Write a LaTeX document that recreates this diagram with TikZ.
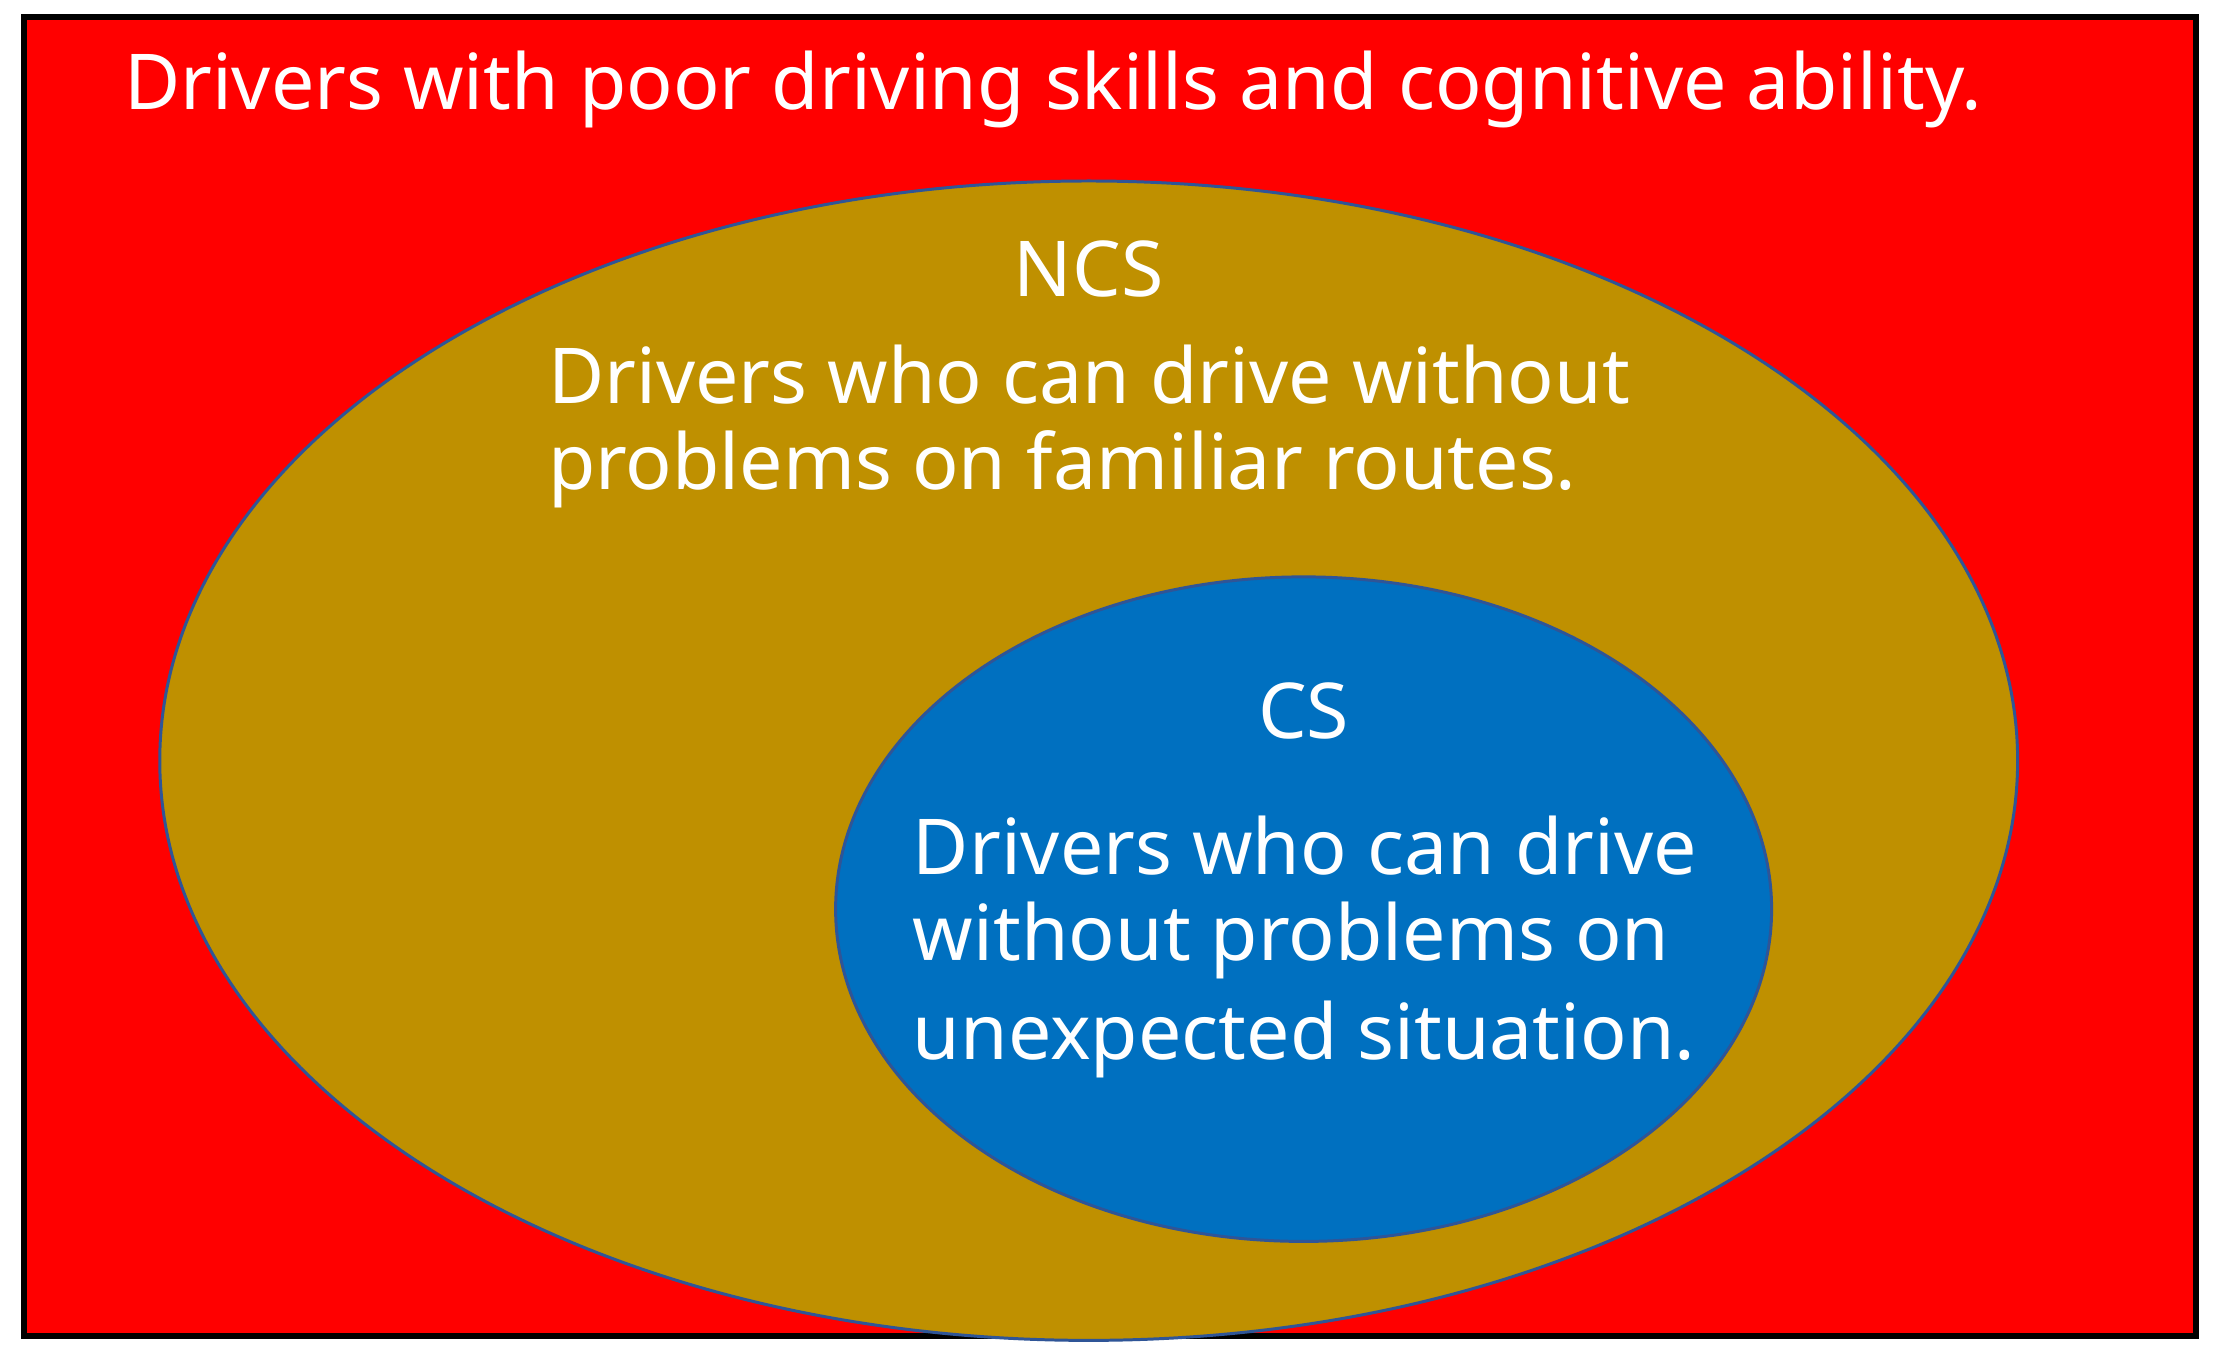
\documentclass[tikz,border=0pt]{standalone}
\usepackage{fontspec}
\setmainfont{Noto Sans}
\definecolor{bgred}{RGB}{255,0,0}
\definecolor{ncs}{RGB}{191,144,0}
\definecolor{csb}{RGB}{0,112,192}
\definecolor{edge}{RGB}{47,85,151}
\begin{document}
\begin{tikzpicture}[x=0.01cm,y=-0.01cm,
  txt/.style={text=white,font=\fontsize{15.5pt}{19pt}\selectfont,inner sep=0pt},
  lbl/.style={txt,anchor=west}]
\useasboundingbox (0,0) rectangle (1568,960);
\fill[white] (0,0) rectangle (1568,960);
\draw[fill=bgred,line width=1.2pt] (17,12) rectangle (1553,945);
\draw[fill=ncs,draw=edge,line width=0.6pt] (770,538) ellipse [x radius=657,y radius=410];
\draw[fill=csb,draw=edge,line width=0.6pt] (922,643) ellipse [x radius=331,y radius=235];
\node[lbl] (t) at (87,63) {Drivers with poor driving skills and cognitive ability.};
\node[txt] (ncs) at (770,190) {NCS};
\node[lbl] (n1) at (387,265) {Drivers who can drive without};
\node[lbl] (n2) at (387,332) {problems on familiar routes.};
\node[txt] (cs) at (922,503) {CS};
\node[lbl] (c1) at (645,598) {Drivers who can drive};
\node[lbl] (c2) at (645,665) {without problems on};
\node[lbl] (c3) at (645,735) {unexpected situation.};
\end{tikzpicture}
\end{document}
